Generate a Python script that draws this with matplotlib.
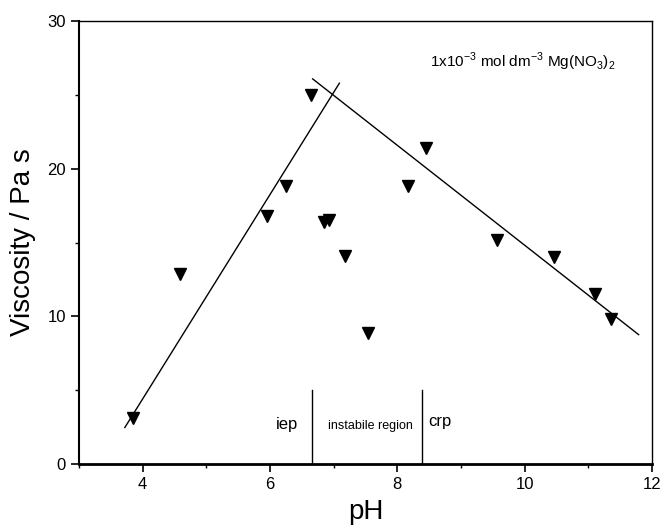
import matplotlib
matplotlib.use("Agg")
import matplotlib.pyplot as plt
from matplotlib.ticker import MultipleLocator

plt.rcParams['font.family'] = ['Liberation Sans', 'DejaVu Sans']
plt.rcParams['mathtext.fontset'] = 'custom'
plt.rcParams['mathtext.rm'] = 'Liberation Sans'

# measured viscosity vs pH
ph = [3.85, 4.59, 5.95, 6.25, 6.65, 6.85, 6.92, 7.18, 7.54, 8.16, 8.45, 9.57, 10.46, 11.11, 11.35]
visc = [3.1, 12.9, 16.8, 18.8, 25.0, 16.4, 16.5, 14.1, 8.9, 18.8, 21.4, 15.2, 14.0, 11.5, 9.8]

# fitted lines (end points)
fit_left_x = [3.72, 7.09]
fit_left_y = [2.47, 25.79]
fit_right_x = [6.67, 11.79]
fit_right_y = [26.08, 8.76]

# iep / crp markers
iep = 6.66
crp = 8.39
marker_top = 5.0

fig = plt.figure(figsize=(6.63, 5.25), dpi=100)
ax = fig.add_axes([79/663, 1-464/525, (652-79)/663, (464-21)/525])

ax.plot(ph, visc, 'kv', markersize=8, linestyle='none')
ax.plot(fit_left_x, fit_left_y, 'k-', linewidth=1)
ax.plot(fit_right_x, fit_right_y, 'k-', linewidth=1)
ax.plot([iep, iep], [0, marker_top], 'k-', linewidth=1)
ax.plot([crp, crp], [0, marker_top], 'k-', linewidth=1)

ax.text(6.44, 2.7, 'iep', ha='right', va='center', fontsize=12)
ax.text(7.57, 2.55, 'instabile region', ha='center', va='center', fontsize=9)
ax.text(8.48, 2.85, 'crp', ha='left', va='center', fontsize=12)
ax.text(8.52, 27.2, r'1x10$^{\mathrm{-3}}$ mol dm$^{\mathrm{-3}}$ Mg(NO$_{\mathrm{3}}$)$_{\mathrm{2}}$',
        ha='left', va='center', fontsize=11)

ax.set_xlim(3, 12)
ax.set_ylim(0, 30)
ax.set_xticks([4, 6, 8, 10, 12])
ax.xaxis.set_minor_locator(MultipleLocator(1))
ax.yaxis.set_major_locator(MultipleLocator(10))
ax.yaxis.set_minor_locator(MultipleLocator(5))
ax.tick_params(which='major', direction='out', length=6, width=1.2, labelsize=12)
ax.tick_params(which='minor', direction='out', length=3, width=1.0)

ax.spines['bottom'].set_linewidth(2)
ax.spines['left'].set_linewidth(1.5)
ax.spines['right'].set_linewidth(1)
ax.spines['top'].set_linewidth(1)

ax.set_xlabel('pH', fontsize=20, labelpad=5)
ax.set_ylabel('Viscosity / Pa s', fontsize=20, labelpad=8)

fig.savefig('out.png', dpi=100)
